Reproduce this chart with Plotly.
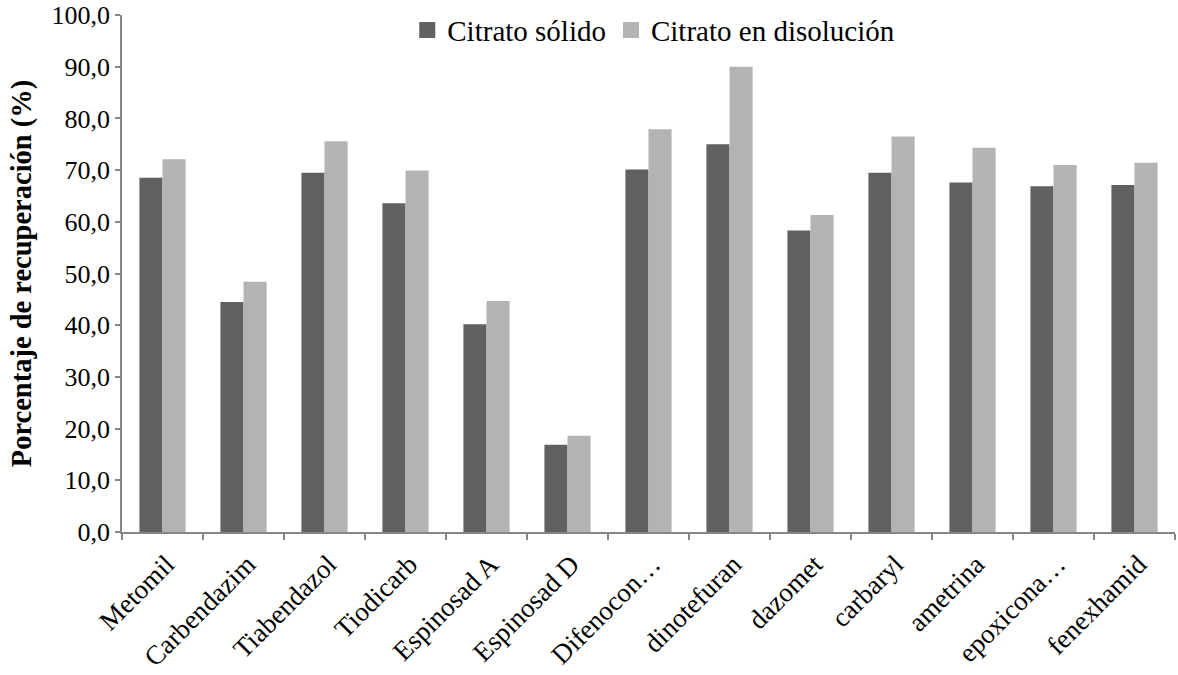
import plotly.graph_objects as go

categories = ["Metomil", "Carbendazim", "Tiabendazol", "Tiodicarb", "Espinosad A",
              "Espinosad D", "Difenocon…", "dinotefuran", "dazomet", "carbaryl",
              "ametrina", "epoxicona…", "fenexhamid"]
citrato_solido = [68.5, 44.5, 69.5, 63.6, 40.2, 16.9, 70.1, 75.0, 58.3, 69.5, 67.6, 66.9, 67.1]
citrato_disolucion = [72.1, 48.4, 75.6, 69.9, 44.7, 18.6, 77.9, 90.0, 61.3, 76.5, 74.3, 71.0, 71.4]
series_names = ["Citrato sólido", "Citrato en disolución"]
series_colors = ["#616161", "#b3b3b3"]
y_ticks = [0, 10, 20, 30, 40, 50, 60, 70, 80, 90, 100]

font_family = "Liberation Serif, Times New Roman, serif"
axis_color = "#868686"

fig = go.Figure()
for name, vals, col in zip(series_names, [citrato_solido, citrato_disolucion], series_colors):
    fig.add_trace(go.Bar(x=categories, y=vals, name=name, showlegend=False,
                         legendgroup=name, marker=dict(color=col, line=dict(width=0))))
# legend entries with larger square swatches
for name, col in zip(series_names, series_colors):
    fig.add_trace(go.Scatter(x=[None], y=[None], mode="markers", name=name,
                             legendgroup=name, hoverinfo="skip",
                             marker=dict(symbol="square", size=16, color=col)))

fig.update_layout(
    width=1178, height=675,
    margin=dict(l=122, r=3, t=15, b=143),
    paper_bgcolor="white", plot_bgcolor="white",
    barmode="group", bargap=0.43, bargroupgap=0,
    separators=",.",
    font=dict(family=font_family, size=26, color="black"),
    showlegend=True,
    legend=dict(orientation="h", x=0.505, xanchor="center", y=1.02, yanchor="top",
                font=dict(family=font_family, size=29, color="black"),
                bgcolor="rgba(0,0,0,0)", traceorder="normal", itemwidth=30),
    xaxis=dict(type="category", showline=True, linecolor=axis_color, linewidth=1.5,
               ticks="outside", tickson="boundaries", ticklen=6, tickcolor=axis_color,
               tickwidth=1.5, tickangle=-45, automargin=False,
               ticklabelstandoff=4, ticklabelshift=4,
               tickfont=dict(family=font_family, size=27), showgrid=False),
    yaxis=dict(range=[0, 100], tickvals=y_ticks, tickformat=".1f", showline=True,
               linecolor=axis_color, linewidth=1.5, ticks="outside", ticklen=5,
               tickcolor=axis_color, tickwidth=1.5, showgrid=False, zeroline=False,
               automargin=False, ticklabeloverflow="allow",
               tickfont=dict(family=font_family, size=26),
               title=dict(text="<b>Porcentaje de recuperación (%)</b>",
                          font=dict(family=font_family, size=28.5), standoff=12)),
)

fig.write_html("out.html", config={"displayModeBar": False},
               post_script="document.body.style.margin='0';document.body.style.padding='0';")
